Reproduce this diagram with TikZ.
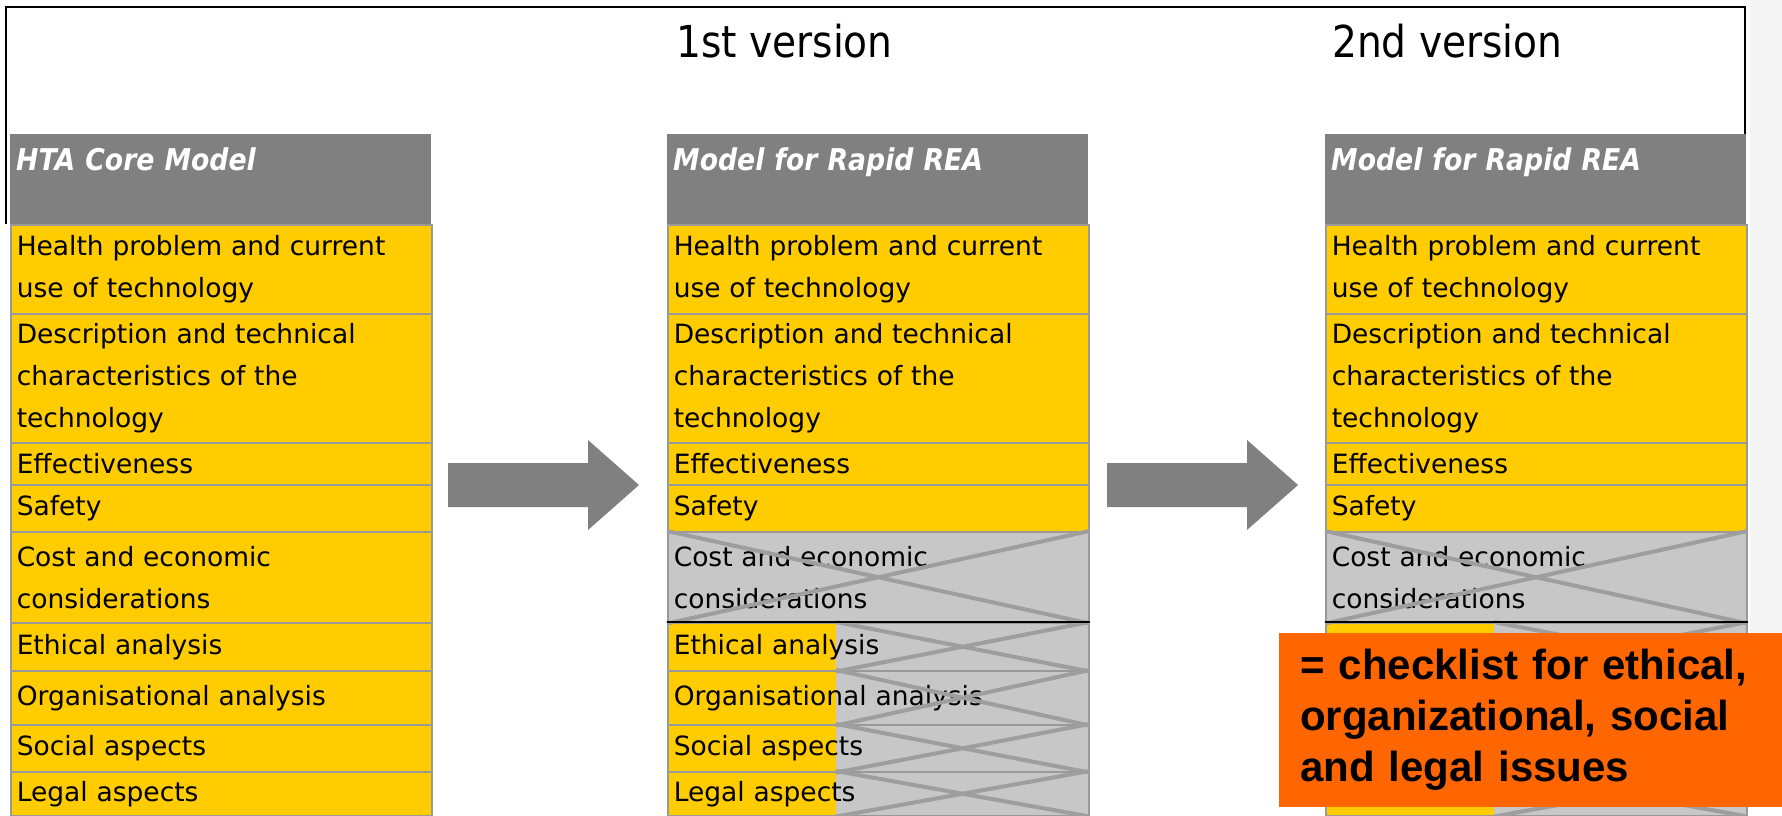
\documentclass[tikz,border=0pt]{standalone}
\usepackage{fontspec}
\setmainfont{DejaVu Sans}
\newfontfamily\narrowfont[FakeStretch=0.89]{DejaVu Sans}
\newfontfamily\calloutfont{Liberation Sans}
\usepackage{xcolor}
\definecolor{cyellow}{rgb}{1,0.8,0}
\definecolor{cgray}{rgb}{0.5,0.5,0.5}
\definecolor{clight}{rgb}{0.78,0.78,0.78}
\definecolor{cline}{rgb}{0.62,0.62,0.62}
\definecolor{cborder}{rgb}{0.6,0.6,0.6}
\definecolor{corange}{rgb}{1,0.4,0}
\usepackage{tikz}
\usetikzlibrary{calc}
\tikzset{
Cell/.style={
	draw=cborder, line width=1.5pt,
	fill=cyellow,
	anchor=north west,
	minimum width=421pt,
	text width=409pt,
	inner xsep=6pt, inner ysep=0pt,
	align=left,
	font=\fontsize{26.5}{42}\selectfont
},
StruckCell/.style={
	Cell,
	fill=clight
},
HalfCell/.style={
	Cell,
	fill=clight,
	path picture={
		\fill[cyellow] (path picture bounding box.south west) rectangle
			($(path picture bounding box.north west)!0.4!(path picture bounding box.north east)$);
	}
},
Head/.style={
	fill=cgray,
	anchor=north west,
	minimum width=421pt,
	text width=409pt,
	inner xsep=6pt, inner ysep=0pt,
	align=left,
	text=white,
	text height=36pt, text depth=54pt,
	font=\narrowfont\bfseries\itshape\fontsize{30}{36}\selectfont
},
Title/.style={
	anchor=base west, inner sep=0pt,
	font=\narrowfont\fontsize{44}{50}\selectfont
},
Callout/.style={
	fill=corange,
	anchor=north west,
	minimum width=503pt, minimum height=174pt,
	text width=461pt,
	inner xsep=21pt, inner ysep=0pt,
	align=left,
	font=\calloutfont\bfseries\fontsize{42}{51}\selectfont
},
Cross/.style={
	draw=cline, line width=4pt
},
Rule/.style={
	draw=black, line width=2.5pt
},
Frame/.style={
	draw=black, line width=2.5pt
},
BlockArrow/.style={
	fill=cgray
}
}

\begin{document}
\begin{tikzpicture}[x=1pt, y=-1pt]
	\useasboundingbox (0,0) rectangle (1782,815);
	\fill[gray!8] (1750,0) rectangle (1782,633);

	\draw[Frame] (6,224) -- (6,7) -- (1745,7) -- (1745,533);

	\node[Title] (V1) at (676,57) {1st version};
	\node[Title] (V2) at (1332,57) {2nd version};

	\node[Head] (HA) at (10,134) {HTA Core Model};
	\node[Head] (HB) at (667,134) {Model for Rapid REA};
	\node[Head] (HC) at (1325,134) {Model for Rapid REA};

	% rows kept in every version
	\foreach \c/\x in {A/10, B/667, C/1325} {
		\node[Cell, minimum height=89pt] (\c1) at (\x,224) {Health problem and current\\use of technology};
		\node[Cell, minimum height=129pt] (\c2) at (\x,313) {Description and technical\\characteristics of the\\technology};
		\node[Cell, minimum height=42pt] (\c3) at (\x,442) {Effectiveness};
		\node[Cell, minimum height=47pt] (\c4) at (\x,484) {Safety};
	}
	% rows dropped or shortened
	\foreach \c/\x/\s/\t in {A/10/Cell/Cell, B/667/StruckCell/HalfCell, C/1325/StruckCell/HalfCell} {
		\node[\s, minimum height=91pt] (\c5) at (\x,531) {Cost and economic\\considerations};
		\node[\t, minimum height=48pt] (\c6) at (\x,622) {Ethical analysis};
		\node[\t, minimum height=54pt] (\c7) at (\x,670) {Organisational analysis};
		\node[\t, minimum height=47pt] (\c8) at (\x,724) {Social aspects};
		\node[\t, minimum height=44pt] (\c9) at (\x,771) {Legal aspects};
	}

	\foreach \c in {B, C} {
		\draw[Cross] (\c5.north west) -- (\c5.south east);
		\draw[Cross] (\c5.south west) -- (\c5.north east);
		\foreach \r in {6,...,9} {
			\draw[Cross] ($(\c\r.north west)!0.4!(\c\r.north east)$) -- (\c\r.south east);
			\draw[Cross] ($(\c\r.south west)!0.4!(\c\r.south east)$) -- (\c\r.north east);
		}
		\draw[Rule] (\c6.north west) -- (\c6.north east);
	}

	\foreach \x in {448, 1107} {
		\fill[BlockArrow] (\x,463) -- ++(140,0) -- ++(0,-23) -- ++(51,45) -- ++(-51,45) -- ++(0,-23) -- ++(-140,0) -- cycle;
	}

	\node[Callout] (note) at (1279,633) {= checklist for ethical,\\organizational, social\\and legal issues};
\end{tikzpicture}
\end{document}
